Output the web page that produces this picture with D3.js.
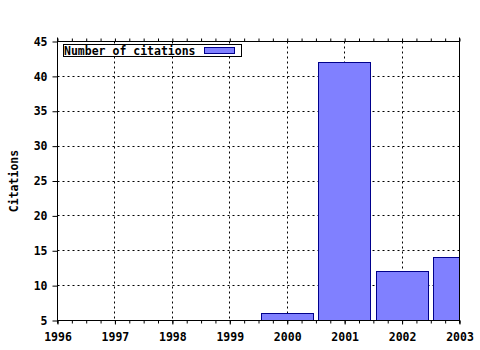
<!DOCTYPE html>
<html>
<head>
<meta charset="utf-8">
<script src="https://cdn.jsdelivr.net/npm/d3@7"></script>
<style>
  body { margin: 0; background: #fff; }
  text { font-family: "DejaVu Sans Mono", monospace; font-weight: bold; font-size: 11.5px; fill: #000; }
</style>
</head>
<body>
<div id="chart"></div>
<script>
// data
var years = [2000, 2001, 2002, 2003];
var citations = [6, 42, 12, 14];
var xTicks = [1996, 1997, 1998, 1999, 2000, 2001, 2002, 2003];
var yTicks = [5, 10, 15, 20, 25, 30, 35, 40, 45];
var seriesName = "Number of citations";

var svgWidth = 480;
var svgHeight = 350;

var margin = { top: 41.5, right: 20.5, bottom: 29.5, left: 57.5 };
var width = svgWidth - margin.left - margin.right;
var height = svgHeight - margin.top - margin.bottom;

var svg = d3.select("#chart")
  .append("svg")
  .attr("width", svgWidth)
  .attr("height", svgHeight);

var chartGroup = svg.append("g")
  .attr("transform", `translate(${margin.left}, ${margin.top})`);

var xScale = d3.scaleLinear().domain([1996, 2003]).range([0, width]);
var yScale = d3.scaleLinear().domain([5, 45]).range([height, 0]);

// clip for bars
svg.append("clipPath").attr("id", "plotClip")
  .append("rect")
  .attr("x", 0).attr("y", 0)
  .attr("width", width).attr("height", height);

// grid lines
chartGroup.append("g")
  .selectAll("line.hgrid")
  .data(yTicks.slice(1, -1))
  .enter()
  .append("line")
  .attr("x1", 0).attr("x2", width)
  .attr("y1", d => Math.round(yScale(d)))
  .attr("y2", d => Math.round(yScale(d)))
  .attr("stroke", "#000")
  .attr("stroke-dasharray", "2,3");

chartGroup.append("g")
  .selectAll("line.vgrid")
  .data(xTicks.slice(1, -1))
  .enter()
  .append("line")
  .attr("x1", d => Math.round(xScale(d)))
  .attr("x2", d => Math.round(xScale(d)))
  .attr("y1", 0).attr("y2", height)
  .attr("stroke", "#000")
  .attr("stroke-dasharray", "2,3");

// bars
var step = xScale(1997) - xScale(1996);
chartGroup.append("g")
  .attr("clip-path", "url(#plotClip)")
  .selectAll("rect")
  .data(years)
  .enter()
  .append("rect")
  .attr("x", (d, i) => Math.round(xScale(d - 0.45)))
  .attr("y", (d, i) => Math.round(yScale(citations[i])))
  .attr("width", Math.round(step * 0.9))
  .attr("height", (d, i) => yScale(5) - Math.round(yScale(citations[i])))
  .attr("fill", "#8080ff")
  .attr("stroke", "#00008b")
  .attr("stroke-width", 1);

// minor ticks (quarters)
var minorTicks = d3.range(1996, 2003.001, 0.25);

var bottomAxis = d3.axisBottom(xScale)
  .tickValues(xTicks)
  .tickFormat(d3.format("d"))
  .tickSize(4)
  .tickPadding(8);

var xAxis = chartGroup.append("g")
  .attr("transform", `translate(0, ${height})`)
  .call(bottomAxis);
xAxis.select(".domain").attr("d", `M0,0H${width}`);

chartGroup.append("g")
  .attr("transform", `translate(0, ${height})`)
  .call(d3.axisBottom(xScale).tickValues(minorTicks).tickSize(3).tickFormat(""))
  .select(".domain").remove();

var topAxis = chartGroup.append("g")
  .call(d3.axisTop(xScale).tickValues(minorTicks).tickSize(3).tickFormat(""));
topAxis.select(".domain").attr("d", `M0,0H${width}`);

var leftAxis = d3.axisLeft(yScale)
  .tickValues(yTicks)
  .tickSize(5)
  .tickPadding(5);

var yAxis = chartGroup.append("g").call(leftAxis);
yAxis.select(".domain").attr("d", `M0,${height + 3}V-4`);

chartGroup.append("line")
  .attr("x1", width).attr("x2", width)
  .attr("y1", -4).attr("y2", height + 3)
  .attr("stroke", "#000");

chartGroup.selectAll(".tick text")
  .attr("font-family", "DejaVu Sans Mono")
  .attr("font-weight", "bold")
  .attr("font-size", 11.5)
  .attr("fill", "#000");

// y label
svg.append("text")
  .attr("transform", `translate(18, 181) rotate(-90)`)
  .attr("text-anchor", "middle")
  .text("Citations");

// legend
var legend = svg.append("g");
legend.append("rect")
  .attr("x", 63.5).attr("y", 44.5)
  .attr("width", 178).attr("height", 12)
  .attr("fill", "#fff")
  .attr("stroke", "#000");
legend.append("text")
  .attr("x", 64).attr("y", 54.5)
  .text(seriesName);
legend.append("rect")
  .attr("x", 204.5).attr("y", 47.5)
  .attr("width", 30).attr("height", 6)
  .attr("fill", "#8080ff")
  .attr("stroke", "#00008b");
</script>
</body>
</html>
